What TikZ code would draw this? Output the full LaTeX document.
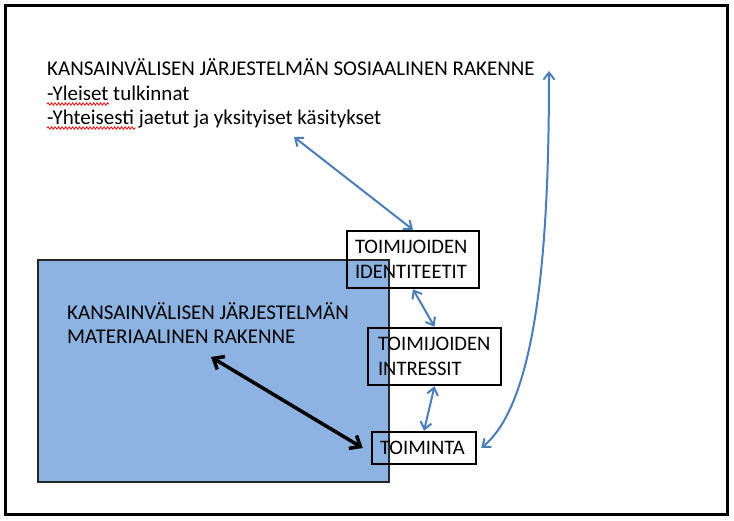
\documentclass[tikz,border=0pt]{standalone}
\usepackage{fontspec}
\setmainfont{Carlito}
\usetikzlibrary{arrows.meta,decorations.pathmorphing}
\definecolor{linkblue}{HTML}{4A7EBB}
\definecolor{panelblue}{HTML}{8DB3E2}
\begin{document}
\begin{tikzpicture}
[
    x=1pt, y=-1pt,
    every node/.style={font=\fontsize{21}{24.5}\selectfont, inner sep=0pt},
    actorbox/.style={draw, line width=2.5pt, align=left, inner ysep=0pt, font=\fontsize{20.6}{25}\selectfont},
    bluelink/.style={draw=linkblue, line width=2pt, {Straight Barb[length=7pt,width=11pt]}-{Straight Barb[length=7pt,width=11pt]}},
    blacklink/.style={draw=black, line width=3.5pt, {Straight Barb[length=9pt,width=15pt]}-{Straight Barb[length=9pt,width=15pt]}},
    spellmark/.style={draw=red, line width=0.8pt, decorate, decoration={snake, amplitude=1.2pt, segment length=3.5pt}},
]
\useasboundingbox (0,0) rectangle (734,521);
\draw[line width=3.5pt] (5.5,5.5) rectangle (727.5,514.5);
\draw[fill=panelblue, draw=black!85, line width=2pt] (37.5,260) rectangle (388.5,482);
\node[anchor=base west, align=left] (social) at (47,125)
    {KANSAINVÄLISEN JÄRJESTELMÄN SOSIAALINEN RAKENNE\\-Yleiset tulkinnat\\-Yhteisesti jaetut ja yksityiset käsitykset};
\node[anchor=base west, align=left] (material) at (67,344)
    {KANSAINVÄLISEN JÄRJESTELMÄN\\MATERIAALINEN RAKENNE};
\node[actorbox, text width=116pt, inner xsep=8pt, minimum height=57pt] (identity) at (413,259.5)
    {TOIMIJOIDEN\\IDENTITEETIT};
\node[actorbox, text width=113pt, inner xsep=10pt, minimum height=57pt] (interest) at (434.5,356.5)
    {TOIMIJOIDEN\\INTRESSIT};
\node[actorbox, text width=88pt, inner xsep=8pt, minimum height=32pt] (action) at (424,448)
    {TOIMINTA};
\coordinate (socialtip) at (294,137);
\coordinate (structtip) at (549,71);
\coordinate (materialtip) at (211,357);
\draw[bluelink] (socialtip) -- (identity.north);
\draw[bluelink] (identity.south) -- (interest.north);
\draw[bluelink] (interest.south) -- (action.north);
\draw[bluelink] ([xshift=4pt]action.east) .. controls (540,400) and (549,230) .. (structtip);
\draw[blacklink] (materialtip) -- ([xshift=-8pt]action.west);
\draw[spellmark] (47,104) -- (109,104);
\draw[spellmark] (47,128) -- (136,128);
\end{tikzpicture}
\end{document}
